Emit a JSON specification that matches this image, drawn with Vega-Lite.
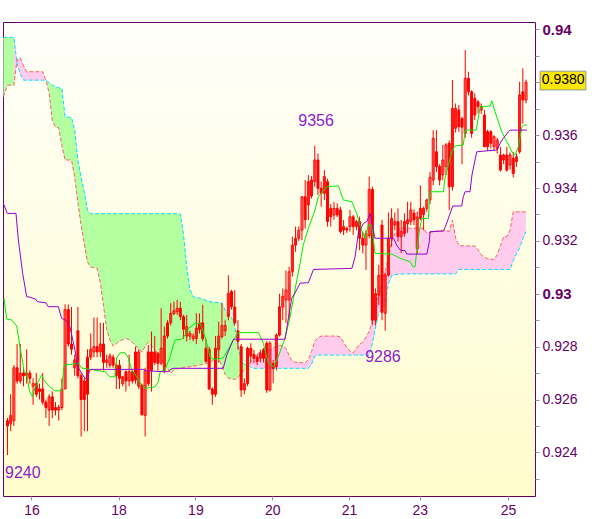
{
"$schema":"https://vega.github.io/schema/vega-lite/v6.json",
"width":532,"height":474,"autosize":"none",
"padding":{"left":3,"top":22,"right":65,"bottom":23},
"background":"white",
"config":{"view":{"stroke":"#660066","strokeWidth":1,"fill":{"gradient":"linear","x1":0,"y1":0,"x2":0,"y2":1,"stops":[{"offset":0,"color":"#fffffa"},{"offset":1,"color":"#fffccc"}]}},"text":{"font":"Liberation Sans"},"scale":{"continuousPadding":0}},
"resolve":{"axis":{"x":"independent","y":"independent"}},
"datasets":{
"main":[
{"i":-1.3,"a":0.9397,"b":0.93745},
{"i":0,"o":0.925,"h":0.9253,"l":0.9239,"c":0.9252,"a":0.9397,"b":0.93789},
{"i":1,"o":0.9251,"h":0.9262,"l":0.9248,"c":0.9254,"a":0.9397,"b":0.93789},
{"i":2,"o":0.9252,"h":0.9273,"l":0.925,"c":0.9272,"a":0.9397,"b":0.93789},
{"i":3,"o":0.9272,"h":0.9281,"l":0.9266,"c":0.9267,"a":0.93869,"b":0.93886},
{"i":4,"o":0.9267,"h":0.9281,"l":0.9266,"c":0.927,"a":0.93831,"b":0.93892},
{"i":5,"o":0.927,"h":0.9272,"l":0.9265,"c":0.9269,"a":0.93808,"b":0.93863},
{"i":6,"o":0.9269,"h":0.9279,"l":0.9266,"c":0.927,"a":0.93808,"b":0.9384},
{"i":7,"o":0.927,"h":0.9271,"l":0.9266,"c":0.9268,"a":0.93808,"b":0.9384},
{"i":8,"o":0.9265,"h":0.9268,"l":0.9258,"c":0.9266,"a":0.93808,"b":0.9384},
{"i":9,"o":0.9266,"h":0.927,"l":0.9261,"c":0.9262,"a":0.93808,"b":0.9384},
{"i":10,"o":0.9263,"h":0.9266,"l":0.926,"c":0.9264,"a":0.93808,"b":0.9384},
{"i":11,"o":0.9264,"h":0.927,"l":0.9258,"c":0.9259,"a":0.93808,"b":0.9384},
{"i":12,"o":0.9259,"h":0.926,"l":0.9253,"c":0.9257,"a":0.93808,"b":0.93808},
{"i":13,"o":0.9256,"h":0.9262,"l":0.925,"c":0.9261,"a":0.93799,"b":0.9376},
{"i":14,"o":0.9261,"h":0.9263,"l":0.9253,"c":0.9256,"a":0.93789,"b":0.93656},
{"i":15,"o":0.9256,"h":0.9259,"l":0.9254,"c":0.9257,"a":0.93783,"b":0.93631},
{"i":16,"o":0.9256,"h":0.9258,"l":0.9252,"c":0.9257,"a":0.93779,"b":0.93628},
{"i":17,"o":0.9257,"h":0.9268,"l":0.9256,"c":0.9264,"a":0.93777,"b":0.9356},
{"i":18,"o":0.9264,"h":0.9296,"l":0.9264,"c":0.9294,"a":0.93669,"b":0.93506},
{"i":19,"o":0.9294,"h":0.9296,"l":0.928,"c":0.9281,"a":0.93668,"b":0.93506},
{"i":20,"o":0.9281,"h":0.9295,"l":0.9277,"c":0.9279,"a":0.93667,"b":0.93506},
{"i":21,"o":0.9272,"h":0.9277,"l":0.9269,"c":0.9275,"a":0.93619,"b":0.93441},
{"i":22,"o":0.9286,"h":0.9295,"l":0.9268,"c":0.9269,"a":0.93503,"b":0.93345},
{"i":23,"o":0.9269,"h":0.927,"l":0.9246,"c":0.926,"a":0.9344,"b":0.93259},
{"i":24,"o":0.9267,"h":0.9268,"l":0.9248,"c":0.926,"a":0.93385,"b":0.93191},
{"i":25,"o":0.9262,"h":0.9279,"l":0.9248,"c":0.9276,"a":0.93316,"b":0.9312},
{"i":26,"o":0.9276,"h":0.9285,"l":0.9275,"c":0.9279,"a":0.93303,"b":0.93101},
{"i":27,"o":0.9278,"h":0.9291,"l":0.9276,"c":0.928,"a":0.93303,"b":0.93099},
{"i":28,"o":0.928,"h":0.9291,"l":0.9276,"c":0.9278,"a":0.93303,"b":0.93097},
{"i":29,"o":0.9278,"h":0.9289,"l":0.9276,"c":0.9281,"a":0.93303,"b":0.93043},
{"i":30,"o":0.9281,"h":0.9289,"l":0.9271,"c":0.9274,"a":0.93303,"b":0.92955},
{"i":31,"o":0.9274,"h":0.9277,"l":0.9272,"c":0.9275,"a":0.93303,"b":0.92863},
{"i":32,"o":0.9273,"h":0.92775,"l":0.9272,"c":0.92765,"a":0.93303,"b":0.92825},
{"i":33,"o":0.9276,"h":0.9277,"l":0.9272,"c":0.9273,"a":0.93303,"b":0.92802},
{"i":34,"o":0.9273,"h":0.9274,"l":0.9264,"c":0.9269,"a":0.93303,"b":0.92811},
{"i":35,"o":0.9273,"h":0.9275,"l":0.9264,"c":0.9268,"a":0.93303,"b":0.92821},
{"i":36,"o":0.9266,"h":0.9269,"l":0.9265,"c":0.92686,"a":0.93303,"b":0.92826},
{"i":37,"o":0.92705,"h":0.9271,"l":0.9263,"c":0.9267,"a":0.93303,"b":0.92831},
{"i":38,"o":0.9267,"h":0.9277,"l":0.9265,"c":0.92705,"a":0.93303,"b":0.92826},
{"i":39,"o":0.92705,"h":0.9271,"l":0.9266,"c":0.9267,"a":0.93303,"b":0.92816},
{"i":40,"o":0.9278,"h":0.928,"l":0.9266,"c":0.92674,"a":0.93303,"b":0.92804},
{"i":41,"o":0.9265,"h":0.9279,"l":0.9264,"c":0.9278,"a":0.93303,"b":0.92793},
{"i":42,"o":0.92655,"h":0.9266,"l":0.9254,"c":0.92542,"a":0.93303,"b":0.92779},
{"i":43,"o":0.9254,"h":0.9272,"l":0.9246,"c":0.9271,"a":0.93303,"b":0.92802},
{"i":44,"o":0.9278,"h":0.92806,"l":0.9265,"c":0.9266,"a":0.93303,"b":0.92816},
{"i":45,"o":0.9271,"h":0.92857,"l":0.9263,"c":0.9278,"a":0.93303,"b":0.92804},
{"i":46,"o":0.9278,"h":0.9284,"l":0.9273,"c":0.9274,"a":0.93303,"b":0.92786},
{"i":47,"o":0.92775,"h":0.9278,"l":0.9271,"c":0.92737,"a":0.93303,"b":0.92776},
{"i":48,"o":0.92737,"h":0.92945,"l":0.9273,"c":0.92794,"a":0.93303,"b":0.92755},
{"i":49,"o":0.9271,"h":0.92876,"l":0.927,"c":0.9284,"a":0.93303,"b":0.92735},
{"i":50,"o":0.9284,"h":0.929,"l":0.9283,"c":0.9289,"a":0.93303,"b":0.92717},
{"i":51,"o":0.9289,"h":0.92964,"l":0.9288,"c":0.92926,"a":0.93303,"b":0.92699},
{"i":52,"o":0.92924,"h":0.9297,"l":0.9292,"c":0.92936,"a":0.93303,"b":0.92713},
{"i":53,"o":0.92932,"h":0.92977,"l":0.9292,"c":0.92945,"a":0.93303,"b":0.92716},
{"i":54,"o":0.92945,"h":0.9297,"l":0.929,"c":0.92914,"a":0.93302,"b":0.92718},
{"i":55,"o":0.92914,"h":0.9292,"l":0.9283,"c":0.92866,"a":0.93224,"b":0.92721},
{"i":56,"o":0.9284,"h":0.9292,"l":0.9282,"c":0.92876,"a":0.931,"b":0.92723},
{"i":57,"o":0.9284,"h":0.9286,"l":0.92825,"c":0.9285,"a":0.93017,"b":0.92724},
{"i":58,"o":0.9283,"h":0.9285,"l":0.9282,"c":0.9284,"a":0.92988,"b":0.92726},
{"i":59,"o":0.9283,"h":0.92926,"l":0.9281,"c":0.9287,"a":0.92986,"b":0.92728},
{"i":60,"o":0.92865,"h":0.92926,"l":0.9285,"c":0.9289,"a":0.92984,"b":0.9273},
{"i":61,"o":0.9289,"h":0.92958,"l":0.9282,"c":0.9283,"a":0.9298,"b":0.92733},
{"i":62,"o":0.92794,"h":0.9283,"l":0.9274,"c":0.92744,"a":0.92975,"b":0.92736},
{"i":63,"o":0.9279,"h":0.928,"l":0.92636,"c":0.9264,"a":0.92971,"b":0.9274},
{"i":64,"o":0.9264,"h":0.92645,"l":0.9258,"c":0.9262,"a":0.92969,"b":0.92746},
{"i":65,"o":0.9262,"h":0.9284,"l":0.9261,"c":0.92794,"a":0.92968,"b":0.92756},
{"i":66,"o":0.92788,"h":0.92895,"l":0.9274,"c":0.9284,"a":0.92966,"b":0.92756},
{"i":67,"o":0.92838,"h":0.92964,"l":0.9283,"c":0.9288,"a":0.92965,"b":0.92725},
{"i":68,"o":0.9286,"h":0.929,"l":0.9284,"c":0.9288,"a":0.92938,"b":0.92695},
{"i":69,"o":0.92914,"h":0.9307,"l":0.929,"c":0.93002,"a":0.92924,"b":0.92681},
{"i":70,"o":0.93008,"h":0.93015,"l":0.9294,"c":0.92951,"a":0.9291,"b":0.92678},
{"i":71,"o":0.9295,"h":0.93014,"l":0.9288,"c":0.9289,"a":0.92875,"b":0.92676},
{"i":72,"o":0.9286,"h":0.929,"l":0.92788,"c":0.9282,"a":0.92808,"b":0.92682},
{"i":73,"o":0.928,"h":0.9281,"l":0.9261,"c":0.92636,"a":0.92747,"b":0.927},
{"i":74,"o":0.92636,"h":0.9268,"l":0.9262,"c":0.9266,"a":0.92733,"b":0.92711},
{"i":75,"o":0.9266,"h":0.928,"l":0.9265,"c":0.92794,"a":0.92728,"b":0.92722},
{"i":76,"o":0.92794,"h":0.92813,"l":0.9274,"c":0.92765,"a":0.92722,"b":0.92742},
{"i":77,"o":0.9277,"h":0.92788,"l":0.92737,"c":0.92756,"a":0.92718,"b":0.9276},
{"i":78,"o":0.9276,"h":0.9277,"l":0.9273,"c":0.92744,"a":0.92718,"b":0.9277},
{"i":79,"o":0.92756,"h":0.92788,"l":0.9274,"c":0.92775,"a":0.92718,"b":0.9278},
{"i":80,"o":0.92788,"h":0.92795,"l":0.9274,"c":0.92756,"a":0.92718,"b":0.92781},
{"i":81,"o":0.92813,"h":0.9282,"l":0.92625,"c":0.92636,"a":0.92718,"b":0.92781},
{"i":82,"o":0.92636,"h":0.9282,"l":0.9263,"c":0.92813,"a":0.92718,"b":0.92788},
{"i":83,"o":0.92737,"h":0.9275,"l":0.92662,"c":0.92718,"a":0.92718,"b":0.92795},
{"i":84,"o":0.92724,"h":0.9285,"l":0.9271,"c":0.92844,"a":0.92718,"b":0.92802},
{"i":85,"o":0.92844,"h":0.93,"l":0.92838,"c":0.92951,"a":0.92718,"b":0.92805},
{"i":86,"o":0.9295,"h":0.9302,"l":0.929,"c":0.9299,"a":0.92718,"b":0.92802},
{"i":87,"o":0.92976,"h":0.93088,"l":0.9289,"c":0.93014,"a":0.92718,"b":0.92793},
{"i":88,"o":0.92976,"h":0.93102,"l":0.929,"c":0.93083,"a":0.92718,"b":0.92767},
{"i":89,"o":0.93083,"h":0.93216,"l":0.93065,"c":0.93184,"a":0.92718,"b":0.92743},
{"i":90,"o":0.93184,"h":0.93254,"l":0.93159,"c":0.9321,"a":0.92718,"b":0.92741},
{"i":91,"o":0.9321,"h":0.93254,"l":0.932,"c":0.9324,"a":0.92718,"b":0.9274},
{"i":92,"o":0.93241,"h":0.93367,"l":0.93203,"c":0.93367,"a":0.92718,"b":0.92739},
{"i":93,"o":0.93367,"h":0.9343,"l":0.93247,"c":0.9328,"a":0.92718,"b":0.92738},
{"i":94,"o":0.93336,"h":0.93449,"l":0.93279,"c":0.93424,"a":0.92718,"b":0.9275},
{"i":95,"o":0.9337,"h":0.93445,"l":0.9336,"c":0.9343,"a":0.92734,"b":0.92782},
{"i":96,"o":0.93424,"h":0.9356,"l":0.93405,"c":0.93506,"a":0.92765,"b":0.92821},
{"i":97,"o":0.93506,"h":0.93531,"l":0.93374,"c":0.93399,"a":0.92768,"b":0.92833},
{"i":98,"o":0.93399,"h":0.93424,"l":0.93329,"c":0.9338,"a":0.92768,"b":0.9284},
{"i":99,"o":0.9338,"h":0.93468,"l":0.93355,"c":0.93443,"a":0.92768,"b":0.9284},
{"i":100,"o":0.93424,"h":0.93435,"l":0.93254,"c":0.93273,"a":0.92768,"b":0.9284},
{"i":101,"o":0.93323,"h":0.9334,"l":0.93254,"c":0.93291,"a":0.92768,"b":0.9284},
{"i":102,"o":0.93298,"h":0.93348,"l":0.9328,"c":0.93323,"a":0.92768,"b":0.9284},
{"i":103,"o":0.93323,"h":0.93342,"l":0.9329,"c":0.93298,"a":0.92768,"b":0.9284},
{"i":104,"o":0.93317,"h":0.93329,"l":0.93228,"c":0.93235,"a":0.92768,"b":0.92836},
{"i":105,"o":0.93241,"h":0.93279,"l":0.93222,"c":0.93254,"a":0.92768,"b":0.92816},
{"i":106,"o":0.93247,"h":0.93254,"l":0.9323,"c":0.93241,"a":0.92768,"b":0.92797},
{"i":107,"o":0.93254,"h":0.93317,"l":0.93235,"c":0.93291,"a":0.92768,"b":0.92783},
{"i":108,"o":0.93291,"h":0.93298,"l":0.93222,"c":0.93254,"a":0.92768,"b":0.92776},
{"i":109,"o":0.93254,"h":0.9328,"l":0.9324,"c":0.93273,"a":0.92768,"b":0.92794},
{"i":110,"o":0.93273,"h":0.93292,"l":0.93165,"c":0.9321,"a":0.92768,"b":0.92809},
{"i":111,"o":0.9321,"h":0.93235,"l":0.93153,"c":0.93184,"a":0.92768,"b":0.92817},
{"i":112,"o":0.93184,"h":0.93241,"l":0.9309,"c":0.93228,"a":0.92768,"b":0.92836},
{"i":113,"o":0.9322,"h":0.93443,"l":0.9321,"c":0.93395,"a":0.92768,"b":0.92857},
{"i":114,"o":0.93395,"h":0.93405,"l":0.92882,"c":0.929,"a":0.92812,"b":0.92898},
{"i":115,"o":0.929,"h":0.9302,"l":0.9288,"c":0.93,"a":0.92874,"b":0.92948},
{"i":116,"o":0.92995,"h":0.93109,"l":0.92957,"c":0.9307,"a":0.92928,"b":0.92995},
{"i":117,"o":0.9326,"h":0.9328,"l":0.929,"c":0.9293,"a":0.92944,"b":0.93041},
{"i":118,"o":0.92926,"h":0.9308,"l":0.9286,"c":0.9307,"a":0.92961,"b":0.93086},
{"i":119,"o":0.9307,"h":0.93307,"l":0.93065,"c":0.9321,"a":0.93039,"b":0.93138},
{"i":120,"o":0.9321,"h":0.93323,"l":0.93178,"c":0.93285,"a":0.93068,"b":0.93197},
{"i":121,"o":0.9326,"h":0.93307,"l":0.9324,"c":0.93273,"a":0.93072,"b":0.93227},
{"i":122,"o":0.93273,"h":0.93323,"l":0.93197,"c":0.93216,"a":0.93074,"b":0.9324},
{"i":123,"o":0.93216,"h":0.9328,"l":0.93153,"c":0.93235,"a":0.93075,"b":0.93248},
{"i":124,"o":0.93228,"h":0.93304,"l":0.93216,"c":0.93273,"a":0.93075,"b":0.93248},
{"i":125,"o":0.93265,"h":0.93348,"l":0.9323,"c":0.9328,"a":0.93075,"b":0.93248},
{"i":126,"o":0.93273,"h":0.93348,"l":0.9326,"c":0.93317,"a":0.93075,"b":0.93248},
{"i":127,"o":0.93305,"h":0.9332,"l":0.9326,"c":0.9328,"a":0.93075,"b":0.93248},
{"i":128,"o":0.9317,"h":0.9331,"l":0.9315,"c":0.9329,"a":0.93075,"b":0.93248},
{"i":129,"o":0.93285,"h":0.9341,"l":0.93279,"c":0.93323,"a":0.93075,"b":0.93248},
{"i":130,"o":0.933,"h":0.9333,"l":0.9324,"c":0.93323,"a":0.93075,"b":0.93248},
{"i":131,"o":0.93323,"h":0.9336,"l":0.9331,"c":0.93355,"a":0.93075,"b":0.93229},
{"i":132,"o":0.93355,"h":0.9346,"l":0.9334,"c":0.9344,"a":0.93075,"b":0.93232},
{"i":133,"o":0.9343,"h":0.93619,"l":0.9341,"c":0.93588,"a":0.93075,"b":0.93234},
{"i":134,"o":0.93537,"h":0.93619,"l":0.9346,"c":0.93481,"a":0.93075,"b":0.93237},
{"i":135,"o":0.93481,"h":0.9349,"l":0.9341,"c":0.9343,"a":0.93075,"b":0.9324},
{"i":136,"o":0.9345,"h":0.93563,"l":0.9343,"c":0.93506,"a":0.93075,"b":0.9324},
{"i":137,"o":0.93481,"h":0.9357,"l":0.9345,"c":0.93563,"a":0.93075,"b":0.93238},
{"i":138,"o":0.93569,"h":0.9358,"l":0.93317,"c":0.93405,"a":0.93075,"b":0.93236},
{"i":139,"o":0.93405,"h":0.93809,"l":0.9339,"c":0.93701,"a":0.93075,"b":0.93279},
{"i":140,"o":0.93626,"h":0.9372,"l":0.9361,"c":0.93701,"a":0.93075,"b":0.93211},
{"i":141,"o":0.93695,"h":0.93714,"l":0.93613,"c":0.93632,"a":0.93092,"b":0.93184},
{"i":142,"o":0.93663,"h":0.9367,"l":0.9349,"c":0.9363,"a":0.93092,"b":0.93181},
{"i":143,"o":0.93607,"h":0.93922,"l":0.9359,"c":0.93815,"a":0.93092,"b":0.93181},
{"i":144,"o":0.93815,"h":0.9384,"l":0.9375,"c":0.93764,"a":0.93092,"b":0.93181},
{"i":145,"o":0.93764,"h":0.9377,"l":0.9359,"c":0.93607,"a":0.93092,"b":0.93181},
{"i":146,"o":0.93739,"h":0.93758,"l":0.93657,"c":0.93676,"a":0.93092,"b":0.93181},
{"i":147,"o":0.93726,"h":0.93733,"l":0.93682,"c":0.93708,"a":0.93092,"b":0.93167},
{"i":148,"o":0.93695,"h":0.9372,"l":0.9368,"c":0.93708,"a":0.93092,"b":0.93147},
{"i":149,"o":0.93676,"h":0.93695,"l":0.93556,"c":0.93556,"a":0.93092,"b":0.93138},
{"i":150,"o":0.93613,"h":0.9362,"l":0.9354,"c":0.93556,"a":0.93092,"b":0.93133},
{"i":151,"o":0.93613,"h":0.93619,"l":0.9355,"c":0.93569,"a":0.93092,"b":0.93131},
{"i":152,"o":0.93556,"h":0.936,"l":0.9354,"c":0.93594,"a":0.93092,"b":0.93129},
{"i":153,"o":0.9355,"h":0.9359,"l":0.9353,"c":0.93581,"a":0.93092,"b":0.93148},
{"i":154,"o":0.93525,"h":0.93556,"l":0.93462,"c":0.93468,"a":0.93092,"b":0.93182},
{"i":155,"o":0.93506,"h":0.9353,"l":0.9349,"c":0.93525,"a":0.93092,"b":0.93216},
{"i":156,"o":0.93525,"h":0.93556,"l":0.93462,"c":0.93468,"a":0.93092,"b":0.93217},
{"i":157,"o":0.93487,"h":0.93535,"l":0.9347,"c":0.93525,"a":0.93092,"b":0.9324},
{"i":158,"o":0.93512,"h":0.93537,"l":0.9344,"c":0.93455,"a":0.93125,"b":0.9331},
{"i":159,"o":0.935,"h":0.9353,"l":0.9348,"c":0.93518,"a":0.93151,"b":0.9331},
{"i":160,"o":0.93537,"h":0.93802,"l":0.9353,"c":0.93752,"a":0.93174,"b":0.9331},
{"i":161,"o":0.93764,"h":0.93853,"l":0.93644,"c":0.93733,"a":0.93208,"b":0.9331},
{"i":162,"o":0.93733,"h":0.9381,"l":0.9372,"c":0.938,"a":0.93235,"b":0.9331}
],
"tenkan":[
{"x":-1.1,"v":0.92984},{"x":-0.25,"v":0.92904},{"x":1.3,"v":0.92901},{"x":2.9,"v":0.92878},{"x":3.9,"v":0.92799},{"x":4.75,"v":0.92742},{"x":5.2,"v":0.92704},{"x":6.0,"v":0.927},{"x":6.8,"v":0.92636},{"x":7.75,"v":0.92611},{"x":8.6,"v":0.92644},{"x":9.6,"v":0.92667},{"x":10.7,"v":0.92693},{"x":11.7,"v":0.92667},{"x":13.3,"v":0.92648},{"x":14.8,"v":0.92633},{"x":16.9,"v":0.92633},{"x":17.7,"v":0.9273},{"x":20.5,"v":0.92734},{"x":22.1,"v":0.92737},{"x":23.2,"v":0.92719},{"x":26.8,"v":0.92712},{"x":30.5,"v":0.92705},{"x":32.0,"v":0.92686},{"x":33.6,"v":0.92686},{"x":34.1,"v":0.92757},{"x":35.2,"v":0.92777},{"x":36.7,"v":0.92777},{"x":37.75,"v":0.92757},{"x":38.8,"v":0.92712},{"x":40.4,"v":0.92686},{"x":41.9,"v":0.92655},{"x":43,"v":0.92642},{"x":46.1,"v":0.92648},{"x":47.1,"v":0.92667},{"x":47.7,"v":0.92705},{"x":49.2,"v":0.92712},{"x":50.8,"v":0.92762},{"x":52.3,"v":0.92825},{"x":54.4,"v":0.92828},{"x":55.5,"v":0.92844},{"x":56.5,"v":0.92869},{"x":58.6,"v":0.92888},{"x":60.2,"v":0.92888},{"x":61.2,"v":0.92856},{"x":62.0,"v":0.92825},{"x":63.3,"v":0.92761},{"x":64.3,"v":0.92752},{"x":67.4,"v":0.92757},{"x":70.6,"v":0.92825},{"x":72.1,"v":0.92853},{"x":78.4,"v":0.92853},{"x":79.9,"v":0.92814},{"x":81.5,"v":0.92737},{"x":83.1,"v":0.92724},{"x":84.6,"v":0.92762},{"x":86.7,"v":0.92832},{"x":88.3,"v":0.92913},{"x":89.8,"v":0.93014},{"x":91.4,"v":0.93115},{"x":92.4,"v":0.93184},{"x":94.0,"v":0.93248},{"x":96.1,"v":0.93317},{"x":97.1,"v":0.93367},{"x":99.75,"v":0.93405},{"x":103.4,"v":0.93408},{"x":104.9,"v":0.93355},{"x":107.6,"v":0.93348},{"x":109.1,"v":0.93304},{"x":110.2,"v":0.93254},{"x":111.7,"v":0.9321},{"x":112.75,"v":0.9326},{"x":113.8,"v":0.9326},{"x":114.8,"v":0.93153},{"x":120.1,"v":0.9315},{"x":122.7,"v":0.93134},{"x":125.8,"v":0.93121},{"x":126.6,"v":0.93102},{"x":127.3,"v":0.93102},{"x":127.9,"v":0.93165},{"x":128.7,"v":0.93241},{"x":129.4,"v":0.93285},{"x":131.5,"v":0.93285},{"x":132,"v":0.93386},{"x":136.2,"v":0.93386},{"x":136.7,"v":0.93438},{"x":138.8,"v":0.93537},{"x":139.8,"v":0.93559},{"x":142.4,"v":0.93563},{"x":142.97,"v":0.93619},{"x":146.4,"v":0.93619},{"x":147.7,"v":0.93707},{"x":150.8,"v":0.9371},{"x":151.3,"v":0.9373},{"x":152.3,"v":0.93689},{"x":154.4,"v":0.93613},{"x":156,"v":0.93575},{"x":157.6,"v":0.93537},{"x":158.6,"v":0.93525},{"x":159.6,"v":0.93556},{"x":160.7,"v":0.93632},{"x":161.2,"v":0.93638},{"x":162.25,"v":0.93638}
],
"kijun":[
{"x":-1.3,"v":0.93342},{"x":-0.06,"v":0.93304},{"x":2.66,"v":0.93304},{"x":3.4,"v":0.93203},{"x":4.75,"v":0.93077},{"x":6.0,"v":0.92989},{"x":7.0,"v":0.92987},{"x":8.9,"v":0.92979},{"x":9.3,"v":0.9297},{"x":12.0,"v":0.92966},{"x":12.75,"v":0.92951},{"x":15.9,"v":0.92951},{"x":16.9,"v":0.92907},{"x":18.0,"v":0.92901},{"x":19.0,"v":0.92888},{"x":19.5,"v":0.92875},{"x":20.4,"v":0.92825},{"x":21.1,"v":0.92787},{"x":21.8,"v":0.92727},{"x":23.2,"v":0.92699},{"x":24.2,"v":0.9268},{"x":24.9,"v":0.9268},{"x":25.8,"v":0.92714},{"x":42.4,"v":0.92714},{"x":43.5,"v":0.92708},{"x":50.25,"v":0.92705},{"x":51,"v":0.92715},{"x":52,"v":0.92718},{"x":67.4,"v":0.92718},{"x":68.5,"v":0.92768},{"x":70.6,"v":0.92828},{"x":86.7,"v":0.92828},{"x":87.75,"v":0.92907},{"x":88.8,"v":0.92983},{"x":89.8,"v":0.93002},{"x":91.4,"v":0.9304},{"x":94.0,"v":0.93042},{"x":95.6,"v":0.93092},{"x":107.6,"v":0.93096},{"x":108.6,"v":0.9314},{"x":109.6,"v":0.93229},{"x":111.2,"v":0.93266},{"x":112.25,"v":0.93273},{"x":113.3,"v":0.93304},{"x":114.8,"v":0.9321},{"x":120.6,"v":0.9321},{"x":121.6,"v":0.93184},{"x":122.7,"v":0.93165},{"x":124.2,"v":0.93163},{"x":124.75,"v":0.9315},{"x":131,"v":0.9315},{"x":131.8,"v":0.93197},{"x":132,"v":0.93235},{"x":136.2,"v":0.93237},{"x":137,"v":0.9326},{"x":139.1,"v":0.93332},{"x":141.9,"v":0.93332},{"x":142.4,"v":0.93367},{"x":142.97,"v":0.93386},{"x":144.5,"v":0.93386},{"x":145.1,"v":0.93449},{"x":146.6,"v":0.93537},{"x":152.9,"v":0.93544},{"x":153.9,"v":0.93569},{"x":154.9,"v":0.93588},{"x":156.5,"v":0.93613},{"x":157,"v":0.93619},{"x":162.25,"v":0.93619}
],
"notes":[{"x":4.8,"y":0.92304,"t":"9240"},{"x":96.4,"y":0.93634,"t":"9356"},{"x":117.3,"y":0.92742,"t":"9286"}],
"price":[{"x1":166.4,"x2":180.7,"y1":0.93771,"y2":0.93842,"xm":173.6,"ym":0.93807,"t":"0.9380"}]
},
"layer":[
{"data":{"name":"main"},"transform":[{"filter":"datum.i <= 3"}],
 "mark":{"type":"area","fill":"#b4ffa0"},
 "encoding":{
  "x":{"field":"i","type":"quantitative","scale":{"domain":[-1.4,164.8],"nice":false,"zero":false,"padding":0},
   "axis":{"title":null,"orient":"bottom","values":[7.5,34.7,58.7,82.7,106.7,128.8,156.4],
    "labelExpr":"datum.value < 20 ? '16' : datum.value < 45 ? '18' : datum.value < 70 ? '19' : datum.value < 95 ? '20' : datum.value < 118 ? '21' : datum.value < 140 ? '23' : '25'",
    "domain":false,"grid":false,"tickColor":"#8899aa","tickSize":4,"labelColor":"#660066","labelFont":"Liberation Sans","labelFontSize":14,"labelPadding":3,"labelFlush":false,"labelOverlap":false}},
  "y":{"field":"a","type":"quantitative","scale":{"domain":[0.92235,0.94028],"nice":false,"zero":false,"padding":0},
   "axis":{"title":null,"orient":"right","values":[0.923,0.924,0.925,0.926,0.927,0.928,0.929,0.93,0.931,0.932,0.933,0.934,0.935,0.936,0.937,0.938,0.939,0.94],
    "labelExpr":"(round(datum.value*1000) % 2 == 0 && round(datum.value*1000) != 938) ? format(datum.value, '.3~f') : ''",
    "domain":false,"grid":false,"tickColor":"#8899aa","tickSize":4,"labelColor":"#660066","labelFont":"Liberation Sans",
    "labelFontSize":{"condition":{"test":"round(datum.value*1000) % 10 == 0","value":15},"value":14},
    "labelFontWeight":{"condition":{"test":"round(datum.value*1000) % 10 == 0","value":"bold"},"value":"normal"},
    "labelPadding":3,"labelFlush":false,"labelOverlap":false,"labelBaseline":"middle"}},
  "y2":{"field":"b"}}},
{"data":{"name":"main"},"transform":[{"filter":"datum.i >= 2 && datum.i <= 12"}],
 "mark":{"type":"area","fill":"#ffcced"},
 "encoding":{"x":{"field":"i","type":"quantitative","axis":null},
  "y":{"field":"a","type":"quantitative","axis":null},"y2":{"field":"b"}}},
{"data":{"name":"main"},"transform":[{"filter":"datum.i >= 12 && datum.i <= 76"}],
 "mark":{"type":"area","fill":"#b4ffa0"},
 "encoding":{"x":{"field":"i","type":"quantitative","axis":null},
  "y":{"field":"a","type":"quantitative","axis":null},"y2":{"field":"b"}}},
{"data":{"name":"main"},"transform":[{"filter":"datum.i >= 75"}],
 "mark":{"type":"area","fill":"#ffcced"},
 "encoding":{"x":{"field":"i","type":"quantitative","axis":null},
  "y":{"field":"a","type":"quantitative","axis":null},"y2":{"field":"b"}}},
{"data":{"name":"main"},
 "mark":{"type":"line","stroke":"#00e0ff","strokeWidth":1,"strokeDash":[4,2]},
 "encoding":{"x":{"field":"i","type":"quantitative","axis":null},
  "y":{"field":"a","type":"quantitative","axis":null}}},
{"data":{"name":"main"},
 "mark":{"type":"line","stroke":"#ff6060","strokeWidth":1,"strokeDash":[4,2]},
 "encoding":{"x":{"field":"i","type":"quantitative","axis":null},
  "y":{"field":"b","type":"quantitative","axis":null}}},
{"data":{"name":"main"},
 "mark":{"type":"rule","stroke":"#ff0000","strokeWidth":1},
 "encoding":{"x":{"field":"i","type":"quantitative","axis":null},
  "y":{"field":"l","type":"quantitative","axis":null},"y2":{"field":"h"}}},
{"data":{"name":"main"},
 "mark":{"type":"bar","size":2,"stroke":"#ff0000","strokeWidth":1},
 "encoding":{"x":{"field":"i","type":"quantitative","axis":null},
  "y":{"field":"o","type":"quantitative","axis":null},"y2":{"field":"c"},
  "fill":{"condition":{"test":"datum.c < datum.o","value":"#ff0000"},"value":"transparent"}}},
{"data":{"name":"tenkan"},
 "mark":{"type":"line","stroke":"#00ee00","strokeWidth":1},
 "encoding":{"x":{"field":"x","type":"quantitative","axis":null},
  "y":{"field":"v","type":"quantitative","axis":null}}},
{"data":{"name":"kijun"},
 "mark":{"type":"line","stroke":"#9900cc","strokeWidth":1},
 "encoding":{"x":{"field":"x","type":"quantitative","axis":null},
  "y":{"field":"v","type":"quantitative","axis":null}}},
{"data":{"name":"notes"},
 "mark":{"type":"text","font":"Liberation Sans","fontSize":16,"fill":"#9020cc","align":"center","baseline":"alphabetic"},
 "encoding":{"x":{"field":"x","type":"quantitative","axis":null},
  "y":{"field":"y","type":"quantitative","axis":null},
  "text":{"field":"t"}}},
{"data":{"name":"price"},
 "mark":{"type":"rect","fill":"#ffe800","stroke":"#8899aa","strokeWidth":1},
 "encoding":{"x":{"field":"x1","type":"quantitative","axis":null},"x2":{"field":"x2"},
  "y":{"field":"y1","type":"quantitative","axis":null},"y2":{"field":"y2"}}},
{"data":{"name":"price"},
 "mark":{"type":"text","font":"Liberation Sans","fontSize":14,"fill":"#000000","align":"center","baseline":"middle"},
 "encoding":{"x":{"field":"xm","type":"quantitative","axis":null},
  "y":{"field":"ym","type":"quantitative","axis":null},
  "text":{"field":"t"}}}
]
}
